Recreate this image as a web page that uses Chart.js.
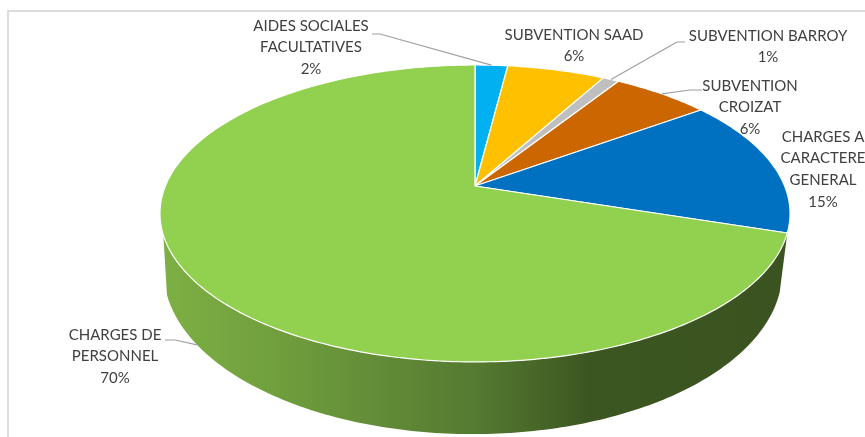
<!DOCTYPE html>
<html lang="fr">
<head>
<meta charset="utf-8">
<title>Répartition des charges</title>
<script src="https://cdn.jsdelivr.net/npm/chart.js@4/dist/chart.umd.min.js"></script>
<style>
  html, body { margin: 0; padding: 0; background: #fff; }
  #box { width: 865px; height: 437px; }
</style>
</head>
<body>
<div id="box"><canvas id="pie" width="865" height="437"></canvas></div>
<script>
// Budget shares, clockwise from twelve o'clock
const categories = [
  'AIDES SOCIALES FACULTATIVES',
  'SUBVENTION SAAD',
  'SUBVENTION BARROY',
  'SUBVENTION CROIZAT',
  'CHARGES A CARACTERE GENERAL',
  'CHARGES DE PERSONNEL'
];
const shares = [2, 6, 1, 6, 15, 70];
const labelLines = [
  ['AIDES SOCIALES', 'FACULTATIVES'],
  ['SUBVENTION SAAD'],
  ['SUBVENTION BARROY'],
  ['SUBVENTION', 'CROIZAT'],
  ['CHARGES A', 'CARACTERE', 'GENERAL'],
  ['CHARGES DE', 'PERSONNEL']
];
const sliceColours = ['#00B0F0', '#FFC000', '#BFBFBF', '#CC6600', '#0070C0', '#92D050'];

// Label placement: centre of the block, first line's y, and where the leader leaves the text
const labelLayout = [
  { x: 311, y: 26, elbow: [[372, 34], [380, 34]] },
  { x: 574, y: 35 },
  { x: 768, y: 36, elbow: [[685, 42], [677, 42]] },
  { x: 750, y: 86, elbow: [[702, 90], [690, 90]] },
  { x: 823, y: 137 },
  { x: 115, y: 335, elbow: [[165, 340], [175, 340]], onBase: true }
];

// Perspective view of the disc: the top face and the lower edge of the wall
const P = 0.185;
const top3d = { cx: 475, cy: 186, a: 309.6, b: 143.4 };
const base3d = { cx: 473, cy: 241, a: 304, b: 157.4 };
const project = (v, t) => {
  const c = Math.cos(t), s = Math.sin(t), d = 1 - P * s;
  return [v.cx + v.a * c / d, v.cy + v.b * s / d];
};
const WALL_END = 161.2 * Math.PI / 180;

const discPlugin = {
  id: 'perspectiveDisc',
  beforeDraw(chart) {
    const ctx = chart.ctx;
    ctx.fillStyle = '#dcdcdc';
    ctx.fillRect(7, 10, 858, 2);
    ctx.fillRect(7, 10, 2, 427);
  },
  beforeDatasetsDraw(chart) {
    const ctx = chart.ctx;
    const arcs = chart.getDatasetMeta(0).data;
    const last = arcs[arcs.length - 1];
    const wallStart = last.startAngle;

    // Wall under the front of the largest slice
    const grad = ctx.createLinearGradient(160, 0, 790, 0);
    grad.addColorStop(0, '#7DB044');
    grad.addColorStop(0.2, '#6F9D3D');
    grad.addColorStop(0.5, '#557A31');
    grad.addColorStop(0.68, '#3C5621');
    grad.addColorStop(1, '#3A5320');
    ctx.beginPath();
    const steps = 160;
    for (let i = 0; i <= steps; i++) {
      const p = project(top3d, wallStart + (WALL_END - wallStart) * i / steps);
      i ? ctx.lineTo(p[0], p[1]) : ctx.moveTo(p[0], p[1]);
    }
    for (let i = steps; i >= 0; i--) {
      const p = project(base3d, wallStart + (WALL_END - wallStart) * i / steps);
      ctx.lineTo(p[0], p[1]);
    }
    ctx.closePath();
    ctx.fillStyle = grad;
    ctx.fill();

    // Top face, one wedge per arc computed by the doughnut controller
    arcs.forEach((arc, i) => {
      ctx.beginPath();
      ctx.moveTo(top3d.cx, top3d.cy);
      const n = Math.max(8, Math.ceil((arc.endAngle - arc.startAngle) * 60));
      for (let k = 0; k <= n; k++) {
        const p = project(top3d, arc.startAngle + (arc.endAngle - arc.startAngle) * k / n);
        ctx.lineTo(p[0], p[1]);
      }
      ctx.closePath();
      ctx.fillStyle = sliceColours[i];
      ctx.fill();
      ctx.strokeStyle = '#ffffff';
      ctx.lineWidth = 1.2;
      ctx.lineJoin = 'round';
      ctx.stroke();
    });
    return false;
  },
  afterDraw(chart) {
    const ctx = chart.ctx;
    const arcs = chart.getDatasetMeta(0).data;
    ctx.textAlign = 'center';
    ctx.textBaseline = 'middle';
    ctx.font = '15px Lato, Carlito, sans-serif';
    arcs.forEach((arc, i) => {
      const spot = labelLayout[i];
      if (spot.elbow) {
        const tip = project(spot.onBase ? base3d : top3d, (arc.startAngle + arc.endAngle) / 2);
        ctx.beginPath();
        ctx.moveTo(spot.elbow[0][0], spot.elbow[0][1]);
        ctx.lineTo(spot.elbow[1][0], spot.elbow[1][1]);
        ctx.lineTo(tip[0], tip[1]);
        ctx.strokeStyle = '#A0A0A0';
        ctx.lineWidth = 1.2;
        ctx.stroke();
      }
      ctx.fillStyle = '#404040';
      const lines = labelLines[i].concat(shares[i] + '%');
      lines.forEach((line, k) => ctx.fillText(line, spot.x, spot.y + k * 21.6));
    });
  }
};

new Chart(document.getElementById('pie'), {
  type: 'pie',
  data: {
    labels: categories,
    datasets: [{ data: shares, backgroundColor: sliceColours }]
  },
  options: {
    responsive: false,
    animation: false,
    events: [],
    plugins: { legend: { display: false }, tooltip: { enabled: false } }
  },
  plugins: [discPlugin]
});
</script>
</body>
</html>
